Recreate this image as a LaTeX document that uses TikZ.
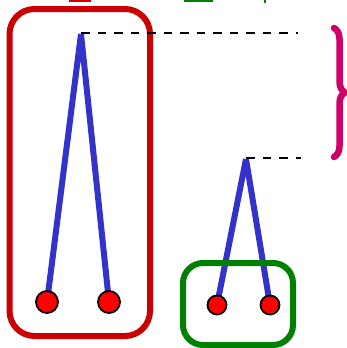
\documentclass[tikz,border=0pt]{standalone}
\usepackage{tikz}
\usetikzlibrary{decorations.pathreplacing,backgrounds}

\definecolor{boxred}{RGB}{204,0,0}
\definecolor{boxgreen}{RGB}{0,128,0}
\definecolor{treeblue}{RGB}{51,51,204}
\definecolor{bracepink}{RGB}{204,0,102}

\begin{document}
\begin{tikzpicture}[x=1pt,y=-1pt,
        big leaf/.style={circle,draw=black,fill=red,line width=1.8pt,minimum size=22pt,inner sep=0pt},
        small leaf/.style={circle,draw=black,fill=red,line width=1.8pt,minimum size=19pt,inner sep=0pt},
        branch/.style={draw=treeblue,line width=6pt},
        level line/.style={draw=black,line width=2pt,dash pattern=on 8.5pt off 8pt}]

    \useasboundingbox (0,0) rectangle (346,348);

    % Group boxes
    \draw[boxred,line width=6pt,rounded corners=25pt] (9.5,9) rectangle (150,336);
    \draw[boxgreen,line width=6pt,rounded corners=20pt] (183,263) rectangle (293,345);

    % cut-off labels at top edge
    \fill[boxred] (69,0) rectangle (91,2);
    \fill[boxgreen] (184,0) rectangle (213,2);
    \fill[boxgreen] (264,0) rectangle (265.5,3);

    % Trees
    \coordinate (r1) at (81,34);
    \coordinate (r2) at (246,159);
    \node[big leaf] (a) at (47,302) {};
    \node[big leaf] (b) at (109,302) {};
    \node[small leaf] (c) at (217,305) {};
    \node[small leaf] (d) at (270,305) {};

    \begin{scope}[on background layer]
        \path[branch] (r1) -- (a.center) (r1) -- (b.center);
        \path[branch] (r2) -- (c.center) (r2) -- (d.center);
    \end{scope}

    % Levels
    \coordinate (e1) at (298,33);
    \coordinate (e2) at (301,158);
    \path[level line] (r1) ++(0,-1) -- (e1);
    \path[level line] (r2) ++(0,-1) -- (e2);

    % Brace
    \draw[bracepink,line width=6.5pt,line cap=round,
        decorate,decoration={brace,amplitude=11pt}]
        (334,28) -- (334,157);

\end{tikzpicture}
\end{document}
